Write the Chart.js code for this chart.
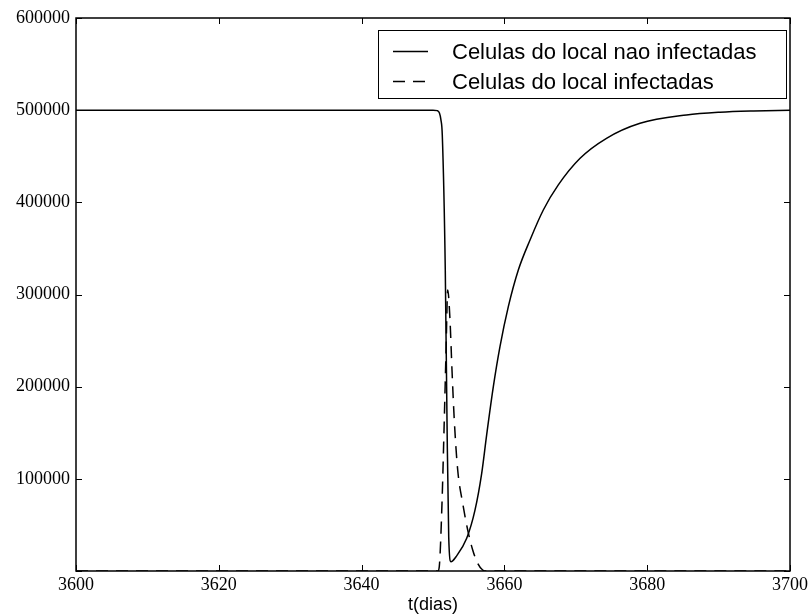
<!DOCTYPE html>
<html lang="pt">
  <head>
    <meta charset="UTF-8" />
    <title>Celulas do local</title>
    <style>
      html,
      body {
        margin: 0;
        padding: 0;
        background: white;
      }

      .container {
        position: relative;
        width: 811px;
        height: 616px;
      }
    </style>
  </head>
  <body>
    <div class="container"><canvas id="chart"></canvas></div>

    <script src="https://cdn.jsdelivr.net/npm/chart.js@4.4.0/dist/chart.umd.min.js"></script>
    <script>
      // values
      const SERIES_NAMES = ["Celulas do local nao infectadas", "Celulas do local infectadas"];

      const healthyT = [
        3600, 3650, 3650.6, 3650.9, 3651.1, 3651.3, 3651.72, 3651.96, 3652.2, 3652.52,
        3653.22, 3654.72, 3655.88, 3656.82, 3657.52, 3658.45, 3659.38, 3660.55, 3661.95,
        3663.59, 3665.45, 3667.55, 3670.6, 3674.3, 3679.0, 3685.5, 3690.2, 3694.9, 3700,
      ];
      const healthyV = [
        500000, 500000, 499500, 497000, 490000, 473000, 326600, 163900, 37200, 10100,
        15500, 35500, 66000, 106000, 148000, 200000, 243400, 286800, 326600,
        359200, 391700, 418900, 447800, 469500, 485800, 494800, 497800, 499200, 500000,
      ];

      const infectedT = [
        3600, 3650.7, 3650.88, 3651.26, 3651.58, 3651.82, 3652.06, 3652.38, 3652.66,
        3652.98, 3653.46, 3654.16, 3654.86, 3655.56, 3656.26, 3656.96, 3657.5, 3700,
      ];
      const infectedV = [
        0, 0, 4700, 73500, 163900, 236600, 305000, 272400, 218100,
        163900, 109600, 73500, 44500, 22800, 8400, 1100, 0, 0,
      ];

      const X_MIN = 3600, X_MAX = 3700, X_STEP = 20;
      const Y_MIN = 0, Y_MAX = 600000, Y_STEP = 100000;

      function points(ts, vs) {
        return ts.map((t, i) => ({ x: t, y: vs[i] }));
      }

      // frame + inward ticks on all four sides, like the old matplotlib look
      const frame = {
        id: "frame",
        beforeDatasetsDraw(chart) {
          const { ctx, chartArea: a, scales } = chart;
          ctx.save();
          ctx.strokeStyle = "#000";
          ctx.lineWidth = 1;
          const len = 6;
          ctx.beginPath();
          for (const t of scales.x.ticks) {
            const px = Math.round(scales.x.getPixelForValue(t.value)) + 0.5;
            ctx.moveTo(px, a.bottom);
            ctx.lineTo(px, a.bottom - len);
            ctx.moveTo(px, a.top);
            ctx.lineTo(px, a.top + len);
          }
          for (const t of scales.y.ticks) {
            const py = Math.round(scales.y.getPixelForValue(t.value)) + 0.5;
            ctx.moveTo(a.left, py);
            ctx.lineTo(a.left + len, py);
            ctx.moveTo(a.right, py);
            ctx.lineTo(a.right - len, py);
          }
          ctx.stroke();
          ctx.lineWidth = 1.5;
          ctx.strokeRect(a.left, a.top, a.right - a.left, a.bottom - a.top);
          ctx.restore();
        },
      };

      // legend box drawn inside the plot, upper right
      const insideLegend = {
        id: "insideLegend",
        afterDraw(chart) {
          const { ctx, chartArea: a } = chart;
          const boxRight = a.right - 4;
          const boxTop = a.top + 12;
          const boxW = 408;
          const rowH = 30;
          const boxH = 68;
          const boxLeft = boxRight - boxW;
          ctx.save();
          ctx.fillStyle = "#fff";
          ctx.fillRect(boxLeft, boxTop, boxW, boxH);
          ctx.strokeStyle = "#000";
          ctx.lineWidth = 1;
          ctx.strokeRect(boxLeft + 0.5, boxTop + 0.5, boxW, boxH);
          ctx.font = '22px "Liberation Sans", Arial, sans-serif';
          ctx.textBaseline = "middle";
          chart.data.datasets.forEach((ds, i) => {
            const y = boxTop + 21.5 + i * rowH;
            ctx.beginPath();
            ctx.setLineDash(ds.borderDash || []);
            ctx.lineWidth = ds.borderWidth;
            ctx.strokeStyle = ds.borderColor;
            ctx.moveTo(boxLeft + 15, y);
            ctx.lineTo(boxLeft + 50, y);
            ctx.stroke();
            ctx.setLineDash([]);
            ctx.fillStyle = "#000";
            ctx.fillText(ds.label, boxLeft + 74, y + 1);
          });
          ctx.restore();
        },
      };

      new Chart(document.getElementById("chart"), {
        type: "line",
        data: {
          datasets: [
            {
              label: SERIES_NAMES[0],
              data: points(healthyT, healthyV),
              borderColor: "#000",
              borderWidth: 1.5,
              pointRadius: 0,
              cubicInterpolationMode: "monotone",
            },
            {
              label: SERIES_NAMES[1],
              data: points(infectedT, infectedV),
              borderColor: "#000",
              borderWidth: 1.5,
              borderDash: [12, 8],
              pointRadius: 0,
              cubicInterpolationMode: "monotone",
            },
          ],
        },
        options: {
          responsive: true,
          maintainAspectRatio: false,
          animation: false,
          layout: { padding: { top: 18, right: 21, left: 0, bottom: 0 } },
          plugins: {
            legend: { display: false },
            tooltip: { enabled: false },
          },
          scales: {
            x: {
              type: "linear",
              min: X_MIN,
              max: X_MAX,
              grid: { display: false, drawTicks: false },
              border: { display: false },
              ticks: {
                stepSize: X_STEP,
                padding: 3,
                color: "#000",
                maxRotation: 0,
                font: { family: '"Liberation Serif", serif', size: 18 },
                callback: (v) => String(v),
              },
              title: {
                display: true,
                text: "t(dias)",
                color: "#000",
                padding: 0,
                font: { family: '"Liberation Sans", Arial, sans-serif', size: 18 },
              },
              afterFit(scale) {
                scale.height = 45;
              },
            },
            y: {
              min: Y_MIN,
              max: Y_MAX,
              grid: { display: false, drawTicks: false },
              border: { display: false },
              ticks: {
                stepSize: Y_STEP,
                padding: 6,
                color: "#000",
                font: { family: '"Liberation Serif", serif', size: 18 },
                callback: (v) => (v === 0 ? "" : String(v)),
              },
              afterFit(scale) {
                scale.width = 76;
              },
            },
          },
        },
        plugins: [frame, insideLegend],
      });
    </script>
  </body>
</html>
